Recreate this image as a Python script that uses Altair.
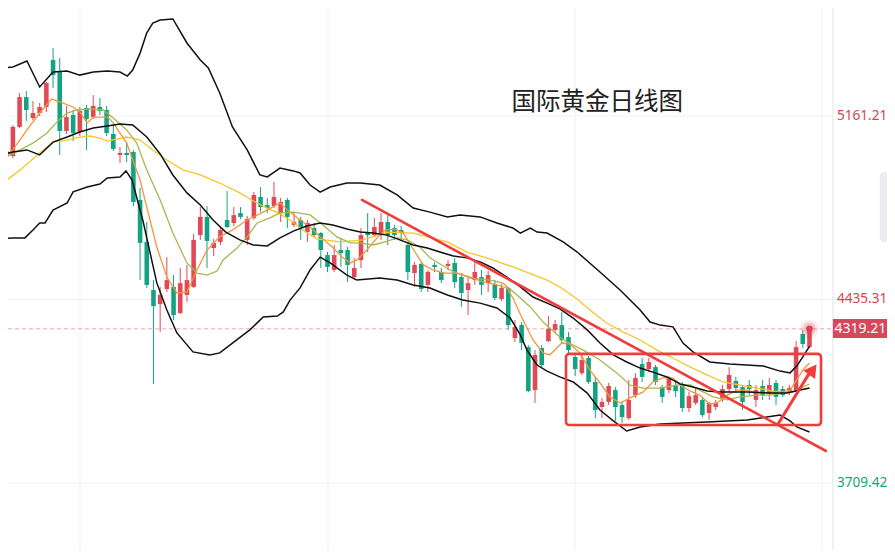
import altair as alt
import pandas as pd

# ---------------- data ----------------
OPEN = [4860, 4999, 5003, 5118, 5236, 5153, 5173, 5197, 5383, 5335,
        5102, 5165, 5098, 5193, 5157, 5197, 5185, 5090, 5007, 5015,
        5019, 4829, 4663, 4473, 4417, 4477, 4485, 4382, 4453, 4485,
        4690, 4762, 4639, 4663, 4750, 4738, 4777, 4671, 4758, 4841,
        4809, 4805, 4777, 4829, 4730, 4750, 4702, 4718, 4698, 4611,
        4552, 4631, 4631, 4524, 4591, 4702, 4690, 4690, 4742, 4718,
        4710, 4651, 4540, 4576, 4493, 4572, 4544, 4568, 4580, 4524,
        4473, 4512, 4524, 4500, 4497, 4437, 4481, 4283, 4334, 4247,
        4077, 4243, 4271, 4315, 4334, 4287, 4208, 4144, 4204, 4109,
        4010, 4030, 4077, 4018, 3966, 4057, 4180, 4160, 4168, 4089,
        4077, 4093, 4093, 4006, 4026, 4038, 3986, 4010, 4042, 4081,
        4113, 4089, 4097, 4038, 4093, 4061, 4105, 4081, 4065, 4077,
        4299, 4247]
HIGH = [5027, 5035, 5125, 5252, 5260, 5220, 5213, 5296, 5430, 5391,
        5201, 5185, 5197, 5205, 5244, 5232, 5201, 5130, 5039, 5058,
        5027, 4876, 4742, 4512, 4485, 4603, 4532, 4560, 4572, 4694,
        4801, 4805, 4675, 4722, 4864, 4801, 4801, 4766, 4861, 4880,
        4837, 4900, 4837, 4837, 4777, 4762, 4750, 4738, 4702, 4623,
        4651, 4679, 4643, 4599, 4718, 4777, 4758, 4777, 4777, 4730,
        4726, 4663, 4584, 4583, 4552, 4583, 4560, 4591, 4599, 4540,
        4520, 4584, 4552, 4548, 4512, 4497, 4485, 4354, 4346, 4255,
        4235, 4255, 4370, 4354, 4386, 4307, 4224, 4216, 4212, 4129,
        4046, 4105, 4089, 4030, 4117, 4144, 4204, 4204, 4176, 4097,
        4133, 4109, 4109, 4069, 4085, 4046, 4030, 4038, 4097, 4168,
        4129, 4097, 4117, 4097, 4117, 4125, 4117, 4093, 4097, 4271,
        4315, 4322]
LOW = [4849, 4987, 4995, 5114, 5141, 5145, 5161, 5177, 5272, 5007,
       5090, 5062, 5082, 5027, 5149, 5165, 5082, 5023, 4975, 4979,
       4805, 4512, 4481, 4101, 4307, 4465, 4354, 4378, 4425, 4481,
       4671, 4560, 4607, 4651, 4718, 4726, 4754, 4651, 4750, 4781,
       4777, 4797, 4742, 4718, 4722, 4671, 4663, 4682, 4560, 4544,
       4544, 4564, 4504, 4512, 4560, 4623, 4682, 4671, 4651, 4671,
       4671, 4512, 4485, 4465, 4465, 4544, 4500, 4552, 4481, 4406,
       4374, 4493, 4453, 4465, 4433, 4429, 4315, 4267, 4235, 4069,
       4026, 4168, 4267, 4303, 4263, 4216, 4133, 4137, 4101, 3966,
       3966, 4018, 3955, 3947, 3959, 4046, 4109, 4148, 4097, 4026,
       4065, 4050, 3990, 3990, 4018, 3970, 3959, 3998, 4030, 4069,
       4065, 3998, 4057, 4010, 4038, 4038, 4018, 4050, 4057, 4069,
       4243, 4243]
CLOSE = [5015, 5023, 5118, 5236, 5185, 5173, 5197, 5292, 5323, 5102,
         5157, 5094, 5181, 5149, 5201, 5181, 5094, 5031, 5015, 5007,
         4821, 4659, 4493, 4409, 4453, 4512, 4374, 4500, 4512, 4671,
         4762, 4667, 4659, 4710, 4722, 4769, 4762, 4754, 4849, 4801,
         4797, 4841, 4821, 4762, 4742, 4718, 4738, 4690, 4631, 4564,
         4611, 4619, 4572, 4560, 4690, 4690, 4722, 4742, 4690, 4690,
         4698, 4544, 4572, 4477, 4544, 4564, 4512, 4576, 4504, 4461,
         4500, 4544, 4493, 4532, 4441, 4481, 4334, 4326, 4263, 4073,
         4216, 4176, 4319, 4338, 4275, 4235, 4160, 4196, 4109, 3998,
         4030, 4093, 4010, 3970, 4038, 4125, 4129, 4188, 4109, 4050,
         4125, 4073, 4006, 4053, 4057, 3978, 4026, 4026, 4081, 4137,
         4085, 4030, 4081, 4077, 4057, 4097, 4050, 4057, 4085, 4247,
         4259, 4319.21]

BOLL_UP_X = [0.1, 2.0, 4.1, 6.0, 8.0, 10.1, 12.0, 14.0, 16.1, 18.0, 19.1, 19.9, 21.0, 22.0,
             22.9, 24.0, 25.9, 28.0, 30.0, 31.2, 32.9, 34.8, 37.0, 38.9, 40.0, 41.9, 43.9,
             44.9, 46.4, 47.9, 49.4, 51.9, 53.9, 56.8, 59.4, 61.8, 64.3, 66.9, 68.8, 71.8,
             74.3, 76.7, 77.8, 79.3, 80.3, 81.8, 84.2, 86.3, 89.7, 92.7, 95.7, 97.2, 98.7,
             100.6, 102.1, 103.6, 106.1, 109.1, 114.1, 116.6, 118.1, 119.1, 120.0, 121.0]
BOLL_UP = [5351, 5355, 5379, 5276, 5335, 5339, 5323, 5335, 5339, 5335, 5319, 5343, 5410, 5490,
           5529, 5541, 5545, 5450, 5383, 5351, 5252, 5118, 5027, 4928, 4920, 4955, 4944,
           4936, 4888, 4860, 4880, 4896, 4896, 4888, 4849, 4797, 4781, 4762, 4770, 4762,
           4738, 4718, 4698, 4718, 4702, 4698, 4663, 4623, 4544, 4473, 4394, 4346, 4334,
           4327, 4263, 4228, 4188, 4180, 4172, 4152, 4145, 4172, 4208, 4250]

BOLL_MID_X = [0.1, 2.0, 4.1, 6.0, 8.0, 10.1, 12.0, 14.0, 16.1, 18.0, 19.9, 22.0, 24.0, 25.9,
              28.0, 30.0, 31.9, 33.8, 35.9, 37.9, 40.0, 41.9, 43.9, 45.9, 47.9, 49.8, 51.9,
              53.9, 55.8, 57.9, 59.8, 61.8, 63.9, 65.8, 67.8, 69.8, 71.8, 73.7, 75.8, 77.8,
              79.7, 81.8, 83.7, 85.7, 87.8, 89.7, 91.7, 93.7, 95.7, 97.6, 99.7, 101.7, 103.6,
              105.7, 107.6, 111.7, 115.6, 117.6, 119.6, 121.0]
BOLL_MID = [5007, 5019, 5027, 5007, 5058, 5078, 5098, 5114, 5122, 5130, 5126, 5078, 5011, 4928,
            4857, 4809, 4750, 4702, 4671, 4651, 4647, 4679, 4706, 4726, 4738, 4730, 4714,
            4702, 4698, 4690, 4671, 4651, 4639, 4623, 4607, 4600, 4584, 4560, 4524, 4485,
            4445, 4421, 4398, 4362, 4315, 4263, 4216, 4188, 4164, 4148, 4129, 4101, 4089,
            4073, 4069, 4069, 4065, 4065, 4077, 4085]

BOLL_LOW_X = [0.1, 2.0, 3.8, 5.0, 6.0, 6.8, 8.0, 10.1, 11.0, 13.1, 15.0, 16.1, 18.0, 18.9, 19.8,
              21.4, 23.5, 25.0, 26.5, 28.9, 31.4, 32.9, 34.8, 37.4, 39.4, 41.5, 42.4, 43.4,
              44.9, 46.4, 47.9, 49.4, 51.9, 53.4, 56.8, 59.4, 61.8, 64.3, 66.9, 69.2, 71.8,
              74.3, 76.3, 77.8, 78.8, 80.3, 81.8, 83.7, 85.7, 87.8, 89.7, 91.7, 93.7, 95.7,
              98.7, 102.1, 105.7, 111.7, 115.6, 116.6, 118.1, 119.1, 121.0]
BOLL_LOW = [4675, 4679, 4679, 4710, 4738, 4738, 4789, 4817, 4861, 4880, 4892, 4916, 4920, 4944, 4908,
            4750, 4501, 4394, 4303, 4228, 4216, 4224, 4263, 4315, 4366, 4370, 4386, 4433,
            4481, 4552, 4603, 4580, 4532, 4512, 4520, 4512, 4493, 4481, 4453, 4433, 4421,
            4402, 4362, 4295, 4235, 4176, 4152, 4129, 4109, 4065, 3998, 3955, 3915, 3931,
            3943, 3947, 3951, 3959, 3974, 3978, 3955, 3931, 3911]

MA5_X = [0.1, 2.0, 4.1, 6.0, 7.8, 9.0, 11.0, 12.0, 13.1, 14.0, 16.1, 17.0, 19.0, 21.0, 22.0,
         23.5, 25.0, 26.5, 28.0, 29.5, 31.0, 32.9, 34.8, 37.0, 39.4, 41.9, 43.4, 44.9,
         46.4, 47.9, 49.7, 51.2, 52.4, 53.4, 54.9, 56.4, 57.6, 59.1, 60.3, 61.6, 63.3,
         64.8, 66.3, 68.3, 70.3, 72.2, 74.3, 75.8, 76.7, 78.2, 79.7, 81.2, 82.2, 84.0,
         85.2, 86.7, 88.2, 89.7, 91.2, 92.7, 94.2, 96.1, 97.6, 99.1, 100.6, 102.1, 103.2,
         104.6, 106.1, 107.2, 108.7, 110.2, 111.7, 113.2, 115.1, 116.6, 118.1, 119.1, 120.0, 121.0]
MA5 = [4975, 5027, 5106, 5173, 5228, 5217, 5197, 5177, 5134, 5157, 5157, 5134, 5054, 4908, 4801,
       4643, 4524, 4461, 4465, 4552, 4631, 4683, 4710, 4750, 4781, 4817, 4781, 4750,
       4722, 4683, 4643, 4603, 4580, 4592, 4631, 4679, 4710, 4714, 4698, 4643, 4572,
       4552, 4540, 4540, 4524, 4505, 4493, 4481, 4441, 4354, 4275, 4224, 4216, 4263,
       4259, 4224, 4156, 4105, 4050, 4026, 4046, 4069, 4109, 4125, 4125, 4089, 4073,
       4057, 4022, 4026, 4057, 4077, 4077, 4065, 4069, 4069, 4077, 4117, 4156, 4184]

MA10_X = [0.1, 3.1, 5.0, 7.1, 8.6, 10.1, 11.6, 13.5, 15.5, 17.0, 19.0, 20.5, 22.0, 24.0, 25.9,
          28.0, 29.5, 31.0, 32.5, 33.4, 35.5, 37.0, 38.5, 40.4, 41.9, 43.9, 46.4, 48.3,
          50.4, 52.4, 53.9, 55.8, 57.6, 59.4, 60.9, 62.8, 64.3, 67.3, 70.3, 73.3, 75.2,
          77.3, 79.3, 81.2, 83.7, 84.8, 87.2, 89.7, 92.2, 94.2, 96.1, 98.7, 101.2, 103.2,
          104.6, 106.6, 108.7, 110.6, 113.2, 115.1, 117.0, 118.5, 120.0, 121.0]
MA10 = [4987, 5027, 5054, 5094, 5138, 5173, 5185, 5189, 5185, 5153, 5106, 5054, 4948, 4829, 4698,
        4580, 4540, 4532, 4548, 4592, 4639, 4683, 4738, 4758, 4778, 4781, 4770, 4730,
        4683, 4659, 4659, 4651, 4663, 4679, 4671, 4643, 4600, 4552, 4520, 4512, 4500,
        4453, 4406, 4346, 4287, 4267, 4235, 4196, 4145, 4097, 4085, 4085, 4097, 4097,
        4077, 4050, 4038, 4050, 4057, 4057, 4065, 4069, 4089, 4101]

MA30_X = [0.1, 3.1, 6.0, 8.0, 10.1, 12.0, 13.5, 15.0, 16.1, 17.5, 19.0, 21.0, 22.9, 25.0, 27.4,
          30.0, 32.9, 35.9, 37.9, 40.0, 41.9, 43.4, 45.3, 47.4, 50.9, 54.3, 57.9, 61.8,
          66.9, 69.8, 72.8, 76.7, 81.8, 83.7, 86.3, 88.2, 90.7, 93.1, 95.7, 98.2, 100.6,
          103.2, 105.7, 108.1, 110.6, 113.2, 115.6, 118.1, 121.0]
MA30 = [4888, 4948, 5015, 5058, 5066, 5078, 5082, 5074, 5062, 5070, 5078, 5066, 5027, 4987, 4948,
        4928, 4896, 4857, 4825, 4797, 4774, 4750, 4710, 4675, 4663, 4671, 4702, 4698,
        4663, 4623, 4600, 4564, 4512, 4485, 4437, 4394, 4342, 4307, 4275, 4235, 4204,
        4168, 4137, 4109, 4097, 4085, 4073, 4069, 4085]

PRICE_LABELS = [5161.21, 4435.31, 3709.42]
LABEL_COLORS = ["#d9434d", "#d9434d", "#17a37b"]
LAST_PRICE = 4319.21
TITLE = "国际黄金日线图"

GRID_X = [12.03, 49.07, 85.97, 122.87]
PANEL_RIGHT = 124.5
LABEL_X = 125.1
TAG_TEXT_X = 128.6
TREND_X = [54.15, 123.47]
TREND_Y = [4829, 3836]
BOX_X = [84.63, 122.72]
BOX_Y = [3939, 4220]
ARROW_X = [116.3, 121.08]
ARROW_Y = [3943, 4148]
ARROW_HEAD = [121.5, 4158]
TAG_Y = [4283, 4358]
TAB_X = [131.5, 134.5]
TAB_Y = [4663, 4940]

X_DOMAIN = [1.27, 132.58]
Y_DOMAIN = [3444.3, 5588.45]
W, H = 879, 542

RED = "#e04a57"
GREEN = "#13a383"
ANN = "#f23b3b"

# ---------------- chart ----------------
xs = alt.Scale(domain=X_DOMAIN, nice=False, zero=False, padding=0)
ys = alt.Scale(domain=Y_DOMAIN, nice=False, zero=False, padding=0)


def X(f):
    return alt.X(f, type="quantitative", scale=xs, axis=None)


def Y(f):
    return alt.Y(f, type="quantitative", scale=ys, axis=None)


n = len(CLOSE)
candles = pd.DataFrame({"i": list(range(n)), "o": OPEN, "h": HIGH, "l": LOW, "c": CLOSE})
candles["dir"] = ["up" if c >= o else "down" for o, c in zip(OPEN, CLOSE)]
col = alt.Color("dir:N", scale=alt.Scale(domain=["up", "down"], range=[RED, GREEN]), legend=None)

layers = []

vgrid = alt.Chart(pd.DataFrame({"x": GRID_X})).mark_rule(color="#f1f1f1", strokeWidth=1).encode(
    x=X("x"), y=alt.value(0), y2=alt.value(H))
hgrid = alt.Chart(pd.DataFrame({"y": PRICE_LABELS, "x0": [X_DOMAIN[0]] * 3, "x1": [PANEL_RIGHT] * 3})).mark_rule(
    color="#f1f1f1", strokeWidth=1).encode(x=X("x0"), x2="x1:Q", y=Y("y"))
border = alt.Chart(pd.DataFrame({"x": [PANEL_RIGHT]})).mark_rule(color="#e6e6e6", strokeWidth=1).encode(
    x=X("x"), y=alt.value(0), y2=alt.value(H))
lastline = alt.Chart(pd.DataFrame({"y": [LAST_PRICE], "x0": [X_DOMAIN[0]], "x1": [PANEL_RIGHT]})).mark_rule(
    color="#f2a3ac", strokeWidth=1, strokeDash=[4, 3]).encode(x=X("x0"), x2="x1:Q", y=Y("y"))
layers += [vgrid, hgrid, border, lastline]

wicks = alt.Chart(candles).mark_rule(strokeWidth=1).encode(x=X("i"), y=Y("l"), y2="h:Q", color=col)
bodies = alt.Chart(candles).mark_bar(size=4.6).encode(x=X("i"), y=Y("o"), y2="c:Q", color=col)
layers += [wicks, bodies]


def line(xv, yv, color, w):
    df = pd.DataFrame({"x": xv, "y": yv})
    return alt.Chart(df).mark_line(color=color, strokeWidth=w).encode(x=X("x"), y=Y("y"))


layers += [
    line(MA30_X, MA30, "#f7c62a", 1.3),
    line(MA10_X, MA10, "#a6b84f", 1.3),
    line(MA5_X, MA5, "#f6953c", 1.3),
    line(BOLL_UP_X, BOLL_UP, "#111111", 1.5),
    line(BOLL_MID_X, BOLL_MID, "#111111", 1.5),
    line(BOLL_LOW_X, BOLL_LOW, "#111111", 1.5),
]

trend = alt.Chart(pd.DataFrame({"x": [TREND_X[0]], "x2": [TREND_X[1]], "y": [TREND_Y[0]], "y2": [TREND_Y[1]]})).mark_rule(
    color=ANN, strokeWidth=2.6, strokeCap="round").encode(x=X("x"), x2="x2:Q", y=Y("y"), y2="y2:Q")
box = alt.Chart(pd.DataFrame({"x": [BOX_X[0]], "x2": [BOX_X[1]], "y": [BOX_Y[0]], "y2": [BOX_Y[1]]})).mark_rect(
    fillOpacity=0, stroke=ANN, strokeWidth=2.6, cornerRadius=3).encode(x=X("x"), x2="x2:Q", y=Y("y"), y2="y2:Q")
shaft = alt.Chart(pd.DataFrame({"x": [ARROW_X[0]], "x2": [ARROW_X[1]], "y": [ARROW_Y[0]], "y2": [ARROW_Y[1]]})).mark_rule(
    color=ANN, strokeWidth=3).encode(x=X("x"), x2="x2:Q", y=Y("y"), y2="y2:Q")
head = alt.Chart(pd.DataFrame({"x": [ARROW_HEAD[0]], "y": [ARROW_HEAD[1]]})).mark_point(
    shape="triangle-up", filled=True, size=210, angle=36, color=ANN, opacity=1).encode(x=X("x"), y=Y("y"))
layers += [trend, box, shaft, head]

dot_df = pd.DataFrame({"x": [n - 1], "y": [LAST_PRICE]})
for s, op in [(330, 0.12), (150, 0.22), (45, 1.0)]:
    layers.append(alt.Chart(dot_df).mark_circle(size=s, color="#e0404f", opacity=op).encode(x=X("x"), y=Y("y")))

for p, c in zip(PRICE_LABELS, LABEL_COLORS):
    layers.append(alt.Chart(pd.DataFrame({"x": [LABEL_X], "y": [p], "t": [f"{p:.2f}"]})).mark_text(
        align="left", baseline="middle", fontSize=13.6, font="Noto Sans", color=c).encode(
        x=X("x"), y=Y("y"), text="t:N"))

tag = alt.Chart(pd.DataFrame({"x": [PANEL_RIGHT], "x2": [X_DOMAIN[1] + 1], "y": [TAG_Y[0]], "y2": [TAG_Y[1]]})).mark_rect(
    color="#d9475a").encode(x=X("x"), x2="x2:Q", y=Y("y"), y2="y2:Q")
tag_text = alt.Chart(pd.DataFrame({"x": [TAG_TEXT_X], "y": [LAST_PRICE], "t": [f"{LAST_PRICE:.2f}"]})).mark_text(
    align="center", baseline="middle", fontSize=14, font="Noto Sans", color="white").encode(
    x=X("x"), y=Y("y"), text="t:N")
tab = alt.Chart(pd.DataFrame({"x": [TAB_X[0]], "x2": [TAB_X[1]], "y": [TAB_Y[0]], "y2": [TAB_Y[1]]})).mark_rect(
    color="#ebebf0", cornerRadius=4).encode(x=X("x"), x2="x2:Q", y=Y("y"), y2="y2:Q")
title = alt.Chart(pd.DataFrame({"x": [89.3], "y": [5212], "t": [TITLE]})).mark_text(
    align="center", baseline="middle", fontSize=24.5, font="Noto Sans CJK SC", color="#222222").encode(
    x=X("x"), y=Y("y"), text="t:N")
layers += [tag, tag_text, tab, title]

chart = alt.layer(*layers).properties(
    width=W, height=H, padding=0, autosize=alt.AutoSizeParams(type="none"), background="white"
).configure_view(strokeWidth=0)

chart.save("out.html", embed_options={"renderer": "svg", "actions": False})
